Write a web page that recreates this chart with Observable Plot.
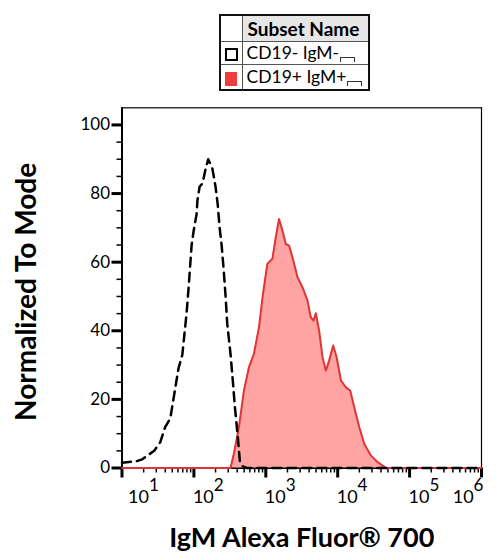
<!DOCTYPE html>
<html><head><meta charset="utf-8">
<script src="https://cdn.jsdelivr.net/npm/d3@7"></script>
<script src="https://cdn.jsdelivr.net/npm/@observablehq/plot@0.6"></script>
<style>
body{margin:0;background:#fff;font-family:Lato,"Noto Sans",sans-serif;color:#000;}
#wrap{width:500px;}
#legend{position:relative;height:100px;}
#legend table{position:absolute;left:219px;top:14px;border-collapse:collapse;border:2px solid #111;table-layout:fixed;width:151px;}
#legend td{border:1px solid #555;padding:0 0 0 4px;font-size:17.5px;line-height:1;white-space:nowrap;overflow:hidden;}
#legend td.ic{width:21px;padding:0;text-align:center;}
#legend tr.h td{height:25px;}
#legend tr.r1 td{height:22px;}
#legend tr.r2 td{height:24px;}
#legend td.hd{background:#e6e6e6;font-weight:bold;font-size:19px;padding-left:5px;}
.sq1{display:inline-block;width:9px;height:9px;border:2px solid #000;vertical-align:middle;}
.sq2{display:inline-block;width:12px;height:14px;background:#f03c3c;vertical-align:middle;}
.br{display:inline-block;width:13px;height:4px;border:1px solid #333;border-bottom:none;margin-left:1px;vertical-align:-3px;}
</style>
</head><body>
<div id="wrap">
  <div id="legend">
    <table>
      <colgroup><col style="width:22px"><col></colgroup>
      <tr class="h"><td class="ic"></td><td class="hd">Subset Name</td></tr>
      <tr class="r1"><td class="ic"><span class="sq1"></span></td><td>CD19- IgM-<span class="br"></span></td></tr>
      <tr class="r2"><td class="ic"><span class="sq2"></span></td><td>CD19+ IgM+<span class="br"></span></td></tr>
    </table>
  </div>
  <div id="chart"></div>
</div>
<script>
// CD19- IgM- (black dashed)
const negX = [10, 16, 19, 28, 34, 40, 47, 61, 69, 79, 84, 93, 99, 109, 112, 120, 132, 145, 158, 180, 200, 214, 228, 243, 259, 276, 291, 324, 349, 372, 408, 436, 477, 542, 1000000];
const negY = [1.5, 2, 2.5, 5, 7.5, 12, 14.5, 29, 33, 45, 52, 65, 69, 74, 78, 82, 83, 87, 90, 87.5, 82, 77, 70, 65, 58, 50, 42, 33, 25, 17.7, 9, 2, 0.5, 0, 0];
// CD19+ IgM+ (red filled)
const posX = [10, 324, 360, 423, 497, 583, 684, 804, 914, 1052, 1236, 1374, 1528, 1702, 1897, 2109, 2350, 2761, 3236, 3802, 4227, 4613, 4966, 5521, 6152, 6839, 7603, 8650, 9661, 11092, 13002, 14928, 16982, 19953, 23442, 29040, 35975, 46990, 1000000];
const posY = [0, 0, 4.2, 11.9, 22.6, 29.4, 33.3, 41, 50.8, 59.5, 61, 67.2, 72.6, 69.2, 65.3, 64.8, 61.4, 55.6, 52.7, 48.8, 43.9, 43, 45.1, 40, 32.3, 28.4, 31.3, 35.7, 32.3, 25.5, 23.5, 22.6, 17.7, 11.9, 7.0, 3.6, 1.7, 0, 0];

const xMajor = [10, 100, 1000, 10000, 100000, 1000000];
const xLabelFirst = [10];
const xLabelMid = [100, 1000, 10000, 100000];
const xLabelLast = [1000000];
const xMinor = [];
for (let k = 1; k < 6; k++) for (let m = 2; m <= 9; m++) xMinor.push(m * Math.pow(10, k));
const yMajor = [0, 20, 40, 60, 80, 100];
const yMinor = [5, 10, 15, 25, 30, 35, 45, 50, 55, 65, 70, 75, 85, 90, 95];
const xTitle = "IgM Alexa Fluor® 700";
const yTitle = "Normalized To Mode";

const neg = negX.map((x, i) => ({x, y: negY[i]}));
const pos = posX.map((x, i) => ({x, y: posY[i]}));

const fmt = d => "10^" + Math.round(Math.log10(d));
const labelOpts = {tickSize: 0, tickPadding: 22, fontSize: 18, label: null, tickFormat: fmt};

const svg = Plot.plot({
  width: 500,
  height: 460,
  marginLeft: 121.5,
  marginRight: 19,
  marginTop: 7.3,
  marginBottom: 92.5,
  style: {fontFamily: "Lato, 'Noto Sans', sans-serif", background: "#fff", color: "#000", overflow: "visible"},
  x: {type: "log", domain: [10, 1000000]},
  y: {domain: [0, 105]},
  marks: [
    Plot.frame({stroke: "#000", strokeWidth: 1.2}),
    Plot.axisY({ticks: yMinor, tickSize: 5, strokeWidth: 1.5, tickFormat: () => "", label: null}),
    Plot.axisY({ticks: yMajor, tickSize: 10, strokeWidth: 3, tickPadding: 2, fontSize: 17, label: null}),
    Plot.axisX({ticks: xMinor, tickSize: 5, strokeWidth: 1.5, tickFormat: () => "", label: null}),
    Plot.axisX({ticks: xMajor, tickSize: 10, strokeWidth: 3, tickFormat: () => "", label: null}),
    Plot.axisX({...labelOpts, ticks: xLabelFirst, textAnchor: "start", dx: 6}),
    Plot.axisX({...labelOpts, ticks: xLabelMid, textAnchor: "start", dx: -1}),
    Plot.axisX({...labelOpts, ticks: xLabelLast, textAnchor: "end", dx: 2}),
    Plot.ruleX([10], {stroke: "#000", strokeWidth: 2}),
    Plot.ruleY([0], {stroke: "#000", strokeWidth: 2}),
    Plot.areaY(pos, {x: "x", y: "y", fill: "#ffa3a3"}),
    Plot.lineY(pos, {x: "x", y: "y", stroke: "#e03535", strokeWidth: 2}),
    Plot.lineY(neg, {x: "x", y: "y", stroke: "#000", strokeWidth: 2.5, strokeDasharray: "9,6"}),
    Plot.text([yTitle], {frameAnchor: "left", rotate: -90, dx: -95, dy: 4, fontSize: 28, fontWeight: "bold", textAnchor: "middle", lineAnchor: "middle"}),
    Plot.text([xTitle], {frameAnchor: "bottom", dy: 70, fontSize: 27, fontWeight: "bold", textAnchor: "middle", lineAnchor: "middle"})
  ]
});

d3.select(svg).selectAll('g[aria-label="x-axis tick label"] text').each(function () {
  const t = this.textContent;
  if (!t.includes("^")) return;
  const [b, e] = t.split("^");
  this.textContent = "";
  const s = d3.select(this);
  s.append("tspan").text(b);
  s.append("tspan").attr("dy", "-0.7em").attr("font-size", "0.95em").text(e);
});

document.getElementById("chart").appendChild(svg);
</script>
</body></html>
